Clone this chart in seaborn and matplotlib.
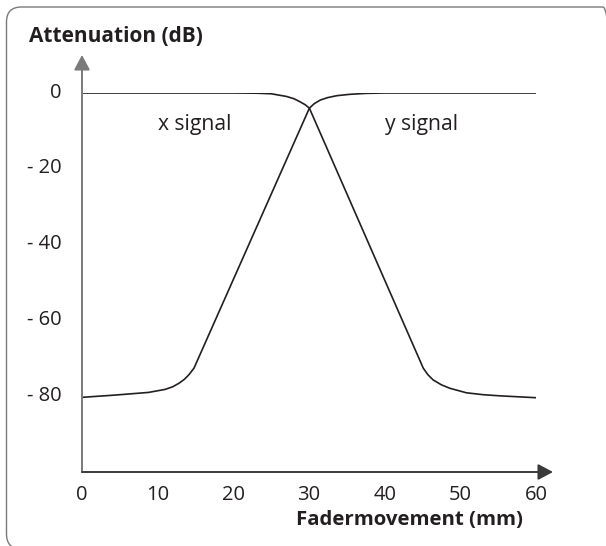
import matplotlib
matplotlib.use("Agg")
import matplotlib.pyplot as plt
import pandas as pd
import seaborn as sns
from matplotlib.patches import FancyBboxPatch
from matplotlib.transforms import ScaledTranslation

# ---- data ----
x_signal_pos = [0, 10, 20, 23, 25, 27, 28, 28.8, 29.5, 30.05, 45.1, 45.7, 46.4, 47.5, 48.6, 50.8, 53.0, 55.2, 60]
x_signal_db = [0, 0, 0, -0.05, -0.2, -0.9, -1.5, -2.3, -3.1, -4.0, -72.6, -74.3, -75.7, -77.0, -77.9, -79.1, -79.6, -79.9, -80.4]

y_signal_pos = [0, 4.4, 8.8, 11.0, 12.0, 12.8, 13.5, 14.1, 14.8, 30.05, 30.7, 31.5, 32.5, 33.7, 35.4, 37.5, 40, 50, 60]
y_signal_db = [-80.3, -79.7, -79.0, -78.2, -77.5, -76.6, -75.6, -74.4, -72.6, -4.0, -2.8, -1.85, -1.2, -0.7, -0.35, -0.1, 0, 0, 0]

x_ticks = [0, 10, 20, 30, 40, 50, 60]
y_ticks = [0, -20, -40, -60, -80]
y_tick_labels = ["0", "- 20", "- 40", "- 60", "- 80"]

series_labels = ["x signal", "y signal"]
y_title = "Attenuation (dB)"
x_title = "Fadermovement (mm)"

# ---- style ----
sns.set_theme(style="white")
plt.rcParams['font.family'] = ['Open Sans', 'DejaVu Sans']

W, H = 606, 546
fig = plt.figure(figsize=(W / 100, H / 100), dpi=100)
fig.patch.set_facecolor("white")

# rounded frame around the figure (pixel coordinates)
frame = FancyBboxPatch((6.5, -3), 618 - 6.5, 546 - 7 + 3,
                       boxstyle="round,pad=0,rounding_size=15",
                       transform=None, fill=False, edgecolor="#7a7a7a", lw=1.0)
fig.patches.append(frame)

ax_l, ax_r = 82, 536
ax_top, ax_bot = 93, 472
ax = fig.add_axes([ax_l / W, (H - ax_bot) / H, (ax_r - ax_l) / W, (ax_bot - ax_top) / H])
ax.set_facecolor("none")

df = pd.concat([
    pd.DataFrame({"pos": x_signal_pos, "db": x_signal_db, "signal": series_labels[0]}),
    pd.DataFrame({"pos": y_signal_pos, "db": y_signal_db, "signal": series_labels[1]}),
])
sns.lineplot(data=df, x="pos", y="db", hue="signal", units="signal", estimator=None,
             palette=["#231f20", "#231f20"], legend=False, ax=ax, lw=1.2)

ax.set_xlim(0, 60)
ax.set_ylim(-100, 0)
for s in ax.spines.values():
    s.set_visible(False)

ax.set_xticks(x_ticks)
ax.set_xticklabels([str(v) for v in x_ticks])
ax.set_yticks(y_ticks)
ax.set_yticklabels(y_tick_labels)
ax.tick_params(axis="both", length=0, labelsize=14.5, colors="#231f20")
ax.tick_params(axis="x", pad=9)
ax.tick_params(axis="y", pad=15)
ax.set_xlabel("")
ax.set_ylabel("")
off = ScaledTranslation(0, 3.0 / 100, fig.dpi_scale_trans)
for lab in ax.get_yticklabels():
    lab.set_transform(lab.get_transform() + off)

# axes arrows
arrow_style = "-|>,head_length=0.45,head_width=0.24"
ax.annotate("", xy=(0, (ax_bot - 55) / (ax_bot - ax_top)), xytext=(0, 0), xycoords="axes fraction",
            arrowprops=dict(arrowstyle=arrow_style, mutation_scale=20,
                            color="#7a7a7a", lw=1.4, shrinkA=0, shrinkB=0), annotation_clip=False)
ax.annotate("", xy=((553 - ax_l) / (ax_r - ax_l), 0), xytext=(0, 0), xycoords="axes fraction",
            arrowprops=dict(arrowstyle=arrow_style, mutation_scale=20,
                            color="#3a3a3a", lw=1.4, shrinkA=0, shrinkB=0), annotation_clip=False)

# series labels
ax.text(10, -9.8, series_labels[0], fontsize=15.2, color="#231f20", ha="left", va="baseline")
ax.text(40, -9.8, series_labels[1], fontsize=15.2, color="#231f20", ha="left", va="baseline")

# axis titles
fig.text(29 / W, (H - 41.7) / H, y_title, fontsize=15, fontweight="bold", color="#231f20",
         ha="left", va="baseline")
fig.text(523 / W, (H - 525) / H, x_title, fontsize=14.7, fontweight="bold", color="#231f20",
         ha="right", va="baseline")

fig.savefig("out.png", dpi=100)
